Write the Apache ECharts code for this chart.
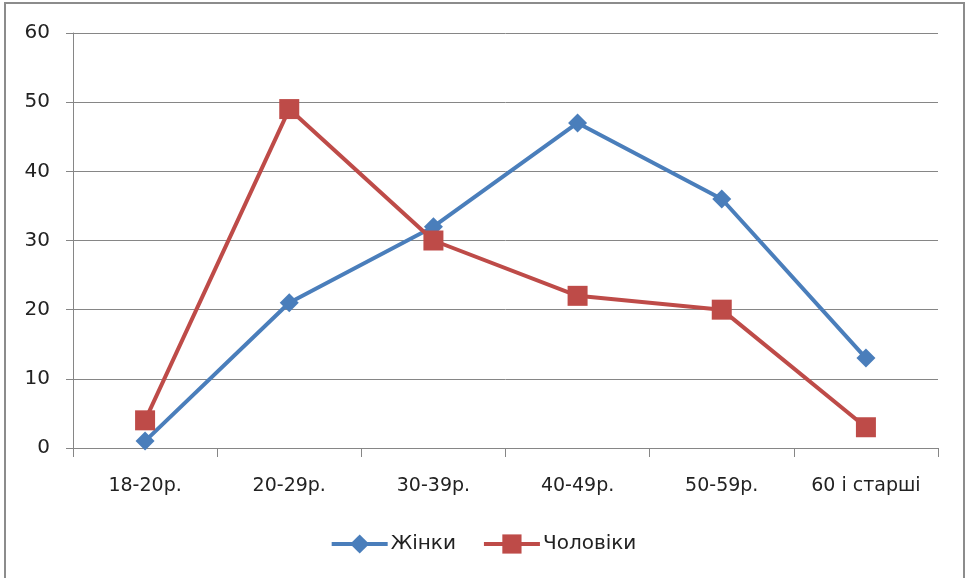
<!DOCTYPE html>
<html>
<head>
<meta charset="utf-8">
<script src="https://cdn.jsdelivr.net/npm/echarts@6/dist/echarts.min.js"></script>
<style>
  html, body { margin: 0; padding: 0; background: #fff; }
  #chart { width: 966px; height: 578px; }
</style>
</head>
<body>
<div id="chart"></div>
<script>
// Age groups on the category axis
const categories = ['18-20р.', '20-29р.', '30-39р.', '40-49р.', '50-59р.', '60 і старші'];
// Series values
const women = [1, 21, 32, 47, 36, 13];
const men = [4, 49, 30, 22, 20, 3];
// Value axis settings
const yMin = 0, yMax = 60, yStep = 10;

const FONT = '"DejaVu Sans", Verdana, sans-serif';
const GRAY = '#868686';

const chart = echarts.init(document.getElementById('chart'), null, { renderer: 'canvas' });
chart.setOption({
  animation: false,
  backgroundColor: '#fff',
  graphic: [{
    type: 'rect',
    shape: { x: 5, y: 3, width: 959, height: 590 },
    style: { fill: 'none', stroke: '#8c8c8c', lineWidth: 2 },
    silent: true
  }],
  grid: { left: 73, right: 28, top: 33, bottom: 130, containLabel: false },
  legend: {
    bottom: 19,
    left: 'center',
    itemWidth: 56,
    itemHeight: 24,
    itemGap: 26,
    lineStyle: { width: 4 },
    textStyle: { fontFamily: FONT, fontSize: 20, color: '#222', padding: [0, 0, 0, -2] },
    data: ['Жінки', 'Чоловіки']
  },
  xAxis: {
    type: 'category',
    data: categories,
    boundaryGap: true,
    axisLine: { lineStyle: { color: GRAY, width: 1 } },
    axisTick: { show: true, interval: 0, length: 9, alignWithLabel: false, lineStyle: { color: GRAY } },
    axisLabel: { interval: 0, fontFamily: FONT, fontSize: 19, color: '#222', margin: 29 },
    splitLine: { show: false }
  },
  yAxis: {
    type: 'value',
    min: yMin, max: yMax, interval: yStep,
    axisLine: { show: true, lineStyle: { color: GRAY, width: 1 } },
    axisTick: { show: true, length: 7, lineStyle: { color: GRAY } },
    axisLabel: { fontFamily: FONT, fontSize: 20, color: '#222', margin: 23 },
    splitLine: { show: true, lineStyle: { color: GRAY, width: 1 } }
  },
  series: [
    {
      name: 'Жінки',
      type: 'line',
      data: women,
      color: '#4a7ebb',
      lineStyle: { width: 4, color: '#4a7ebb' },
      symbol: 'diamond',
      symbolSize: 19,
      itemStyle: { color: '#4a7ebb' },
      z: 2
    },
    {
      name: 'Чоловіки',
      type: 'line',
      data: men,
      color: '#be4b48',
      lineStyle: { width: 4, color: '#be4b48' },
      symbol: 'rect',
      symbolSize: 20,
      itemStyle: { color: '#be4b48' },
      z: 3
    }
  ]
});
</script>
</body>
</html>
